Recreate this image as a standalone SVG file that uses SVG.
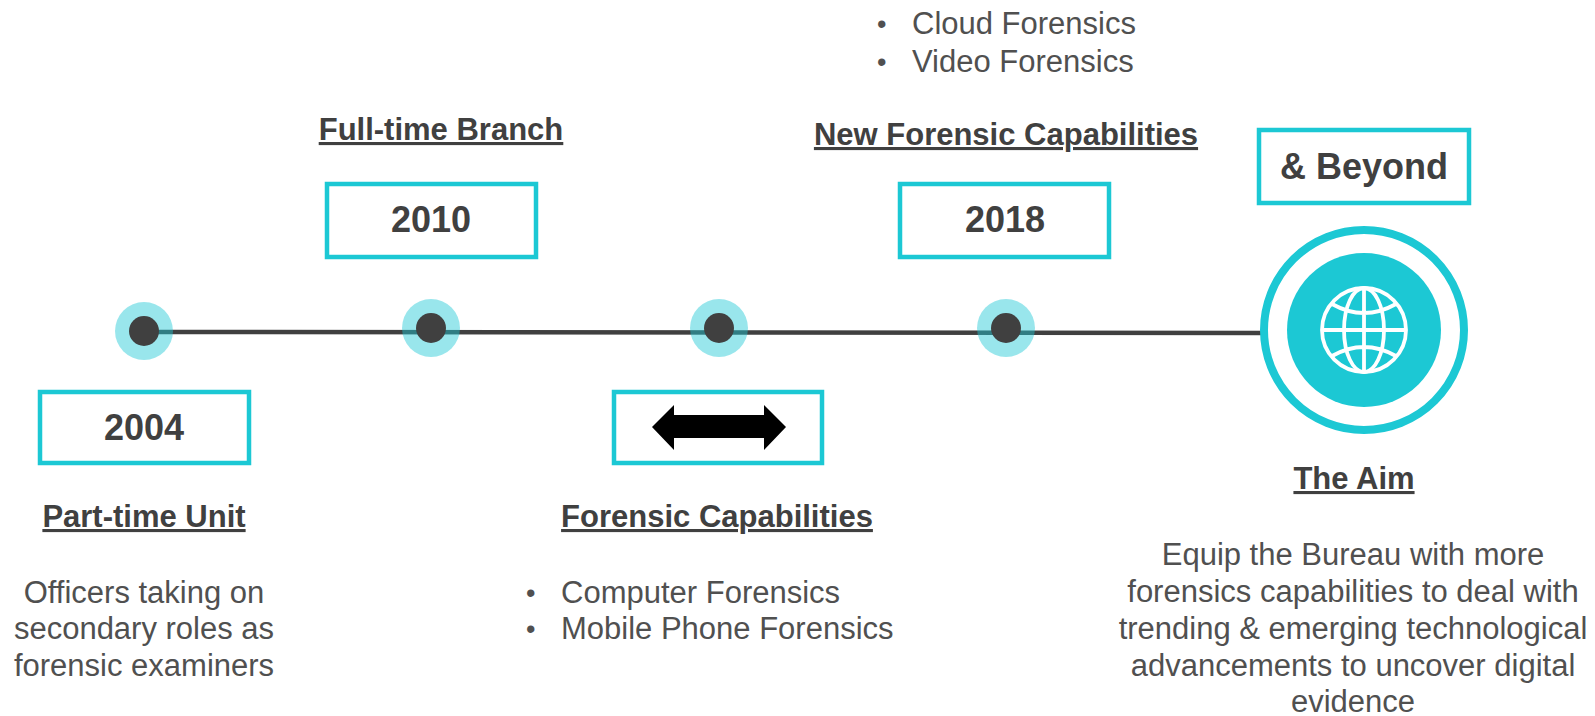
<svg xmlns="http://www.w3.org/2000/svg" width="1595" height="716" viewBox="0 0 1595 716">
<style>
text{font-family:"Liberation Sans",Arial,sans-serif;fill:#444}
.box{fill:#fff;stroke:#1cc8d4;stroke-width:4.5}
.yr{font-size:36px;font-weight:700;text-anchor:middle;fill:#404040}
.hd{font-size:31px;font-weight:700;text-anchor:middle;text-decoration:underline;fill:#404040}
.b{font-size:31px;fill:#505050}
.bu{font-size:27px;fill:#505050}
.m{font-size:31px;fill:#505050;text-anchor:middle}
.halo{fill:#1cc8d4;fill-opacity:.45}
.dot{fill:#404040}
.g{fill:none;stroke:#fff;stroke-width:3.8}
</style>
<rect width="1595" height="716" fill="#fff"/>
<g id="connectors"><path d="M144 332L1270 333" stroke="#404040" stroke-width="4.5" fill="none"/></g>
<g id="n2004">
<circle class="halo" cx="144" cy="331" r="29"/><circle class="dot" cx="144" cy="331" r="15"/>
<rect class="box" x="40" y="392" width="209" height="71"/>
<text class="yr" x="144" y="440">2004</text>
<text class="hd" x="144" y="527">Part-time Unit</text>
<text class="m" x="144" y="603">Officers taking on</text>
<text class="m" x="144" y="639">secondary roles as</text>
<text class="m" x="144" y="676">forensic examiners</text>
</g>
<g id="n2010">
<circle class="halo" cx="431" cy="328" r="29"/><circle class="dot" cx="431" cy="328" r="15"/>
<rect class="box" x="327" y="184" width="209" height="73"/>
<text class="yr" x="431" y="232">2010</text>
<text class="hd" x="441" y="140">Full-time Branch</text>
</g>
<g id="nforensic">
<circle class="halo" cx="719" cy="328" r="29"/><circle class="dot" cx="719" cy="328" r="15"/>
<rect class="box" x="614" y="392" width="208" height="71"/>
<path d="M652 427L674 405V415H764V405L786 427L764 450V438H674V450Z" fill="#000"/>
<text class="hd" x="717" y="527">Forensic Capabilities</text>
<text class="bu" x="526" y="602">•</text><text class="b" x="561" y="603">Computer Forensics</text>
<text class="bu" x="526" y="638">•</text><text class="b" x="561" y="639">Mobile Phone Forensics</text>
</g>
<g id="n2018">
<circle class="halo" cx="1006" cy="328" r="29"/><circle class="dot" cx="1006" cy="328" r="15"/>
<rect class="box" x="900" y="184" width="209" height="73"/>
<text class="yr" x="1005" y="232">2018</text>
<text class="hd" x="1006" y="145">New Forensic Capabilities</text>
<text class="bu" x="877" y="33">•</text><text class="b" x="912" y="34">Cloud Forensics</text>
<text class="bu" x="877" y="71">•</text><text class="b" x="912" y="72">Video Forensics</text>
</g>
<g id="nbeyond">
<rect class="box" x="1259" y="130" width="210" height="73"/>
<text class="yr" x="1364" y="179">&amp; Beyond</text>
<circle cx="1364" cy="330" r="100" fill="#fff" stroke="#1cc8d4" stroke-width="8"/>
<circle cx="1364" cy="330" r="77" fill="#1cc8d4"/>
<g class="g">
<circle cx="1364" cy="330" r="42"/>
<ellipse cx="1364" cy="330" rx="20" ry="42"/>
<path d="M1364 288V372M1322 330H1406M1332 304Q1364 322 1396 304M1332 356Q1364 338 1396 356"/>
</g>
<text class="hd" x="1354" y="489">The Aim</text>
<text class="m" x="1353" y="565">Equip the Bureau with more</text>
<text class="m" x="1353" y="602">forensics capabilities to deal with</text>
<text class="m" x="1353" y="639">trending &amp; emerging technological</text>
<text class="m" x="1353" y="676">advancements to uncover digital</text>
<text class="m" x="1353" y="712">evidence</text>
</g>
</svg>
